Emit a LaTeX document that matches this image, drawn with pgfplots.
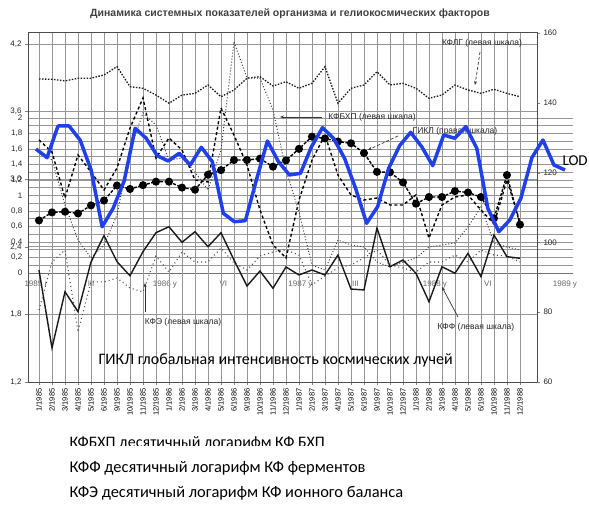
\documentclass[border=0pt]{standalone}
\usepackage{fontspec}
\setmainfont{Liberation Sans}
\newfontfamily\calibri{Carlito}
\usepackage{pgfplots}
\usepackage{pgfplotstable}
\pgfplotsset{compat=1.18}
\usetikzlibrary{arrows.meta}

\definecolor{lodblue}{RGB}{32,64,235}
\definecolor{grd}{RGB}{150,150,150}

% monthly values, index of the month label on the bottom axis
% kflg kfbhp kfx kff kfe: left scale, gikl: right scale
\pgfplotstableread{
i kflg kfbhp kfx kff kfe gikl
0 3.889 3.348 3.259 2.194 1.839 106.3
1 3.887 3.241 3.170 1.502 2.265 108.6
2 3.872 2.833 2.771 2.001 2.372 108.8
3 3.896 3.215 2.460 1.824 1.644 108.3
4 3.896 3.064 2.301 2.265 2.088 110.6
5 3.925 2.904 2.416 2.499 2.088 112.0
6 3.999 3.099 2.682 2.268 2.123 116.3
7 3.821 3.454 3.259 2.143 2.034 115.3
8 3.807 3.721 3.588 2.357 1.999 116.4
9 3.747 3.188 3.481 2.525 2.318 117.4
10 3.674 3.366 3.170 2.578 2.176 117.4
11 3.747 3.259 3.188 2.440 2.354 115.7
12 3.762 2.993 3.064 2.534 2.265 115.1
13 3.836 2.975 2.904 2.401 2.265 119.4
14 3.732 3.632 3.259 2.525 2.389 120.7
15 3.792 3.392 4.218 2.283 2.256 123.6
16 3.896 3.126 3.898 2.052 2.194 123.6
17 3.910 2.727 3.898 2.185 2.318 124.0
18 3.827 2.416 3.614 2.032 2.354 121.7
19 3.865 2.301 3.082 2.221 2.372 123.5
20 3.807 2.815 2.709 2.150 2.327 126.8
21 3.851 3.170 2.238 2.194 2.061 130.3
22 3.999 3.392 2.194 2.150 2.141 129.8
23 3.674 3.037 2.460 2.327 2.212 128.9
24 3.807 2.860 2.416 2.025 2.238 128.4
25 3.836 2.815 2.398 2.017 2.301 125.6
26 3.954 2.833 2.265 2.567 2.372 120.2
27 3.836 2.771 2.221 2.223 2.238 120.1
28 3.851 2.771 2.265 2.283 2.212 117.2
29 3.807 2.860 2.301 2.165 2.176 111.1
30 3.718 2.478 2.398 1.913 2.265 113.0
31 3.747 2.771 2.416 2.223 2.265 113.0
32 3.836 2.842 2.434 2.165 2.327 114.7
33 3.792 2.860 2.576 2.342 2.265 114.3
34 3.762 2.727 2.753 2.135 2.372 113.0
35 3.798 2.602 2.434 2.505 2.327 106.9
36 3.762 2.993 2.398 2.312 2.318 119.3
37 3.732 2.620 2.372 2.298 2.265 105.1
}\monthly

% LOD, months from January 1985
\pgfplotstableread{
m lod
0 1.600
1 1.488
2 1.897
3 1.897
4 1.716
5 1.329
6 0.597
7 0.835
8 1.187
9 1.867
10 1.738
11 1.514
12 1.445
13 1.545
14 1.394
15 1.622
16 1.436
17 0.770
18 0.662
19 0.675
20 1.200
21 1.703
22 1.436
23 1.265
24 1.286
25 1.630
26 1.875
27 1.738
28 1.480
29 1.093
30 0.641
31 0.855
32 1.351
33 1.643
34 1.815
35 1.630
36 1.385
37 1.781
38 1.738
39 1.888
40 1.609
41 0.835
42 0.533
43 0.684
44 0.964
45 1.488
46 1.716
47 1.394
48 1.329
}\loddata

\pgfplotsset{
  every axis/.append style={scale only axis, anchor=south west,
    tick label style={font=\fontsize{8}{9}\selectfont, text=black!85,
      /pgf/number format/assume math mode=true}},
}

\begin{document}
\begin{tikzpicture}[x=1pt,y=1pt]
\path[use as bounding box] (0,0) rectangle (589,508);

% inner scale 0..2 with its fine grid
\begin{axis}[
  at={(28pt,235pt)}, width=545pt, height=155pt,
  xmin=-0.726, xmax=48.73, ymin=0, ymax=2,
  axis lines=left, axis line style={-, black!55, line width=0.8pt},
  ytick={0,0.2,0.4,0.6,0.8,1,1.2,1.4,1.6,1.8,2},
  minor ytick={0.1,0.3,0.5,0.7,0.9,1.1,1.3,1.5,1.7,1.9},
  ymajorgrids, yminorgrids,
  major grid style={grd, line width=0.7pt},
  minor grid style={grd, line width=0.7pt},
  ytick style={draw=none}, xtick style={draw=none},
  yticklabel style={/pgf/number format/use comma},
  xtick={0,5,11.7,17,24,29,36.2,41,48},
  xticklabels={1985 г,III,1986 у,VI,1987 у,III,1988 у,VI,1989 у},
  xticklabel style={text=black!60, yshift=-2pt},
]
\end{axis}

% main chart, left scale
\begin{axis}[
  at={(28pt,126pt)}, width=509pt, height=350pt,
  xmin=-0.846, xmax=38.31, ymin=1.2, ymax=4.3065,
  axis line style={black!70, line width=0.8pt},
  xtick={0,...,37},
  xticklabels={1/1985,2/1985,3/1985,4/1985,5/1985,6/1985,9/1985,10/1985,11/1985,12/1985,
    1/1986,2/1986,3/1986,4/1986,5/1986,6/1986,9/1986,10/1986,11/1986,12/1986,
    1/1987,2/1987,3/1987,4/1987,5/1987,6/1987,9/1987,10/1987,12/1987,
    1/1988,2/1988,3/1988,4/1988,5/1988,6/1988,10/1988,11/1988,12/1988},
  xtick pos=bottom, ytick pos=left,
  tick align=outside, major tick length=3pt,
  xmajorgrids, ymajorgrids, major grid style={grd, line width=0.7pt},
  ytick={1.2,1.8,2.4,3.0,3.6,4.2},
  xticklabel style={rotate=90, anchor=east, font=\fontsize{7.5}{8}\selectfont, text=black},
  yticklabel style={/pgf/number format/.cd, fixed, fixed zerofill, precision=1, use comma},
]
\addplot[black!90, line width=1.3pt, dash pattern=on 1.5pt off 1.5pt] table[x=i,y=kflg]{\monthly};
\addplot[black, line width=1.4pt, dash pattern=on 3pt off 2.5pt] table[x=i,y=kfbhp]{\monthly};
\addplot[black!75, line width=1pt, dash pattern=on 1pt off 2pt] table[x=i,y=kfx]{\monthly};
\addplot[black!90, line width=1.4pt] table[x=i,y=kff]{\monthly};
\addplot[black!70, line width=1.1pt, dash pattern=on 1pt off 3pt] table[x=i,y=kfe]{\monthly};
\end{axis}

% right scale
\begin{axis}[
  at={(28pt,126pt)}, width=509pt, height=350pt,
  xmin=-0.846, xmax=38.31, ymin=60, ymax=160.29,
  hide x axis, axis y line*=right,
  axis line style={black!70, line width=0.8pt},
  ytick={60,80,100,120,140,160}, tick align=outside, major tick length=3pt,
]
\addplot[black, line width=1.4pt, dash pattern=on 3pt off 1.5pt,
  mark=*, mark size=3.3pt, mark options={solid, fill=black}] table[x=i,y=gikl]{\monthly};
\end{axis}

\node[font=\bfseries\fontsize{10.5}{12}\selectfont, text=black!75] at (290,494)
  {Динамика системных показателей организма и гелиокосмических факторов};
\begin{scope}[every node/.style={font=\fontsize{8.5}{10}\selectfont, text=black!85}]
\node at (482,465) {КФЛГ (левая шкала)};
\node at (372,391) {КФБХП (левая шкала)};
\node at (455,377) {ГИКЛ (правая шкала)};
\node at (183,186) {КФЭ (левая шкала)};
\node at (476,181) {КФФ (левая шкала)};
\end{scope}
\draw[black!80, line width=0.7pt, densely dashed, -{Stealth[length=4pt]}] (480,456) -- (475,423);
\draw[black!80, line width=0.9pt, -{Stealth[length=4pt]}] (322,391) -- (280,391);
\draw[black!80, line width=0.7pt, densely dashed, -{Stealth[length=4pt]}] (398,372) -- (368,358);
\draw[black!80, line width=0.7pt, -{Stealth[length=4pt]}] (145,196) -- (145,225);
\draw[black!80, line width=0.7pt, -{Stealth[length=4pt]}] (458,191) -- (442,221);

\node[anchor=west, font=\calibri\fontsize{16}{19}\selectfont] at (95,148)
  {ГИКЛ глобальная интенсивность космических лучей};
\node[anchor=west, font=\calibri\fontsize{16}{19}\selectfont] at (66,65)
  {КФБХП десятичный логарифм КФ БХП};
\fill[white] (60,49) rectangle (420,61.5);
\node[anchor=west, font=\calibri\fontsize{16.4}{19}\selectfont] at (66,40)
  {КФФ десятичный логарифм КФ ферментов};
\node[anchor=west, font=\calibri\fontsize{16.4}{19}\selectfont] at (66,15)
  {КФЭ десятичный логарифм КФ ионного баланса};

% LOD on the inner scale, drawn last
\begin{axis}[
  at={(28pt,235pt)}, width=545pt, height=155pt,
  xmin=-0.726, xmax=48.73, ymin=0, ymax=2, hide axis,
]
\addplot[lodblue, line width=3.5pt, line join=round] table[x=m,y=lod]{\loddata};
\end{axis}
\node[anchor=west, font=\calibri\fontsize{15}{18}\selectfont] at (559,347) {LOD};
\end{tikzpicture}
\end{document}
